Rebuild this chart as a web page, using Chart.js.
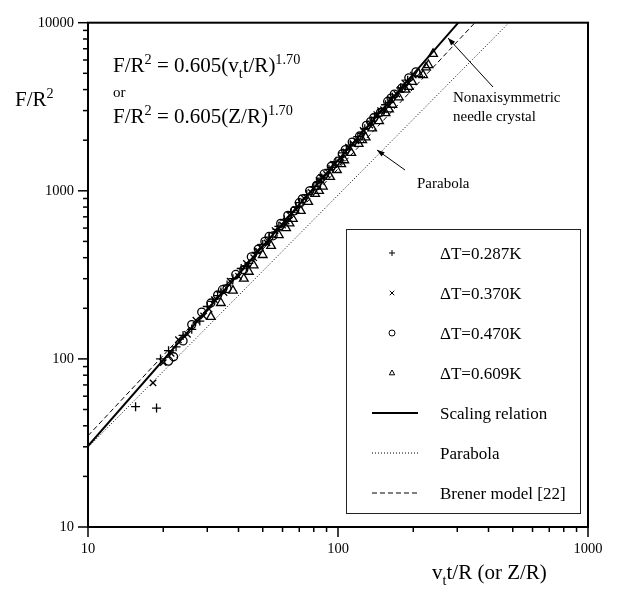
<!DOCTYPE html>
<html lang="en">
<head>
<meta charset="UTF-8">
<title>F/R2 scaling relation</title>
<script src="https://cdn.jsdelivr.net/npm/chart.js"></script>
<style>
  html, body { margin: 0; padding: 0; background: #fff; }
</style>
</head>
<body>
<canvas id="myChart" width="621" height="591"></canvas>
<script>
// tick labels (decades) on both log axes
const xTickLabels = [10, 100, 1000];
const yTickLabels = [10, 100, 1000, 10000];

// measured points, dT = 0.287K (+)
const plusX = [15.5, 18.8, 19.5, 21, 22.5, 24, 26, 28, 30, 31.5, 33, 34, 36, 38, 41, 43, 44, 47, 50, 53, 57, 58, 61, 65, 68, 70, 75, 80, 83, 86, 92, 95, 98, 105, 108, 112, 120, 125, 128, 136, 140, 145, 155, 160, 165, 178, 190];
const plusY = [52, 51, 100, 112, 118, 138, 150, 168, 205, 220, 238, 250, 275, 300, 345, 355, 370, 430, 480, 530, 590, 615, 670, 745, 800, 850, 950, 1060, 1120, 1190, 1340, 1380, 1490, 1680, 1750, 1870, 2100, 2200, 2340, 2600, 2730, 2900, 3250, 3350, 3600, 4100, 4550];

// dT = 0.370K (x)
const crossX = [18.2, 20, 21.5, 23, 25, 27, 29, 30.5, 32, 35, 37, 40, 43, 46, 47.5, 49, 52, 56, 60, 62, 64, 68, 73, 78, 84, 86, 90, 96, 103, 110, 115, 118, 126, 134, 143, 148, 152, 162, 172, 178, 185, 200];
const crossY = [72, 95, 108, 130, 140, 170, 180, 198, 225, 248, 290, 310, 370, 400, 440, 460, 490, 580, 625, 660, 720, 775, 905, 980, 1150, 1200, 1250, 1440, 1570, 1820, 1900, 1980, 2290, 2460, 2840, 3000, 3040, 3500, 3760, 4000, 4380, 4880];

// dT = 0.470K (o)
const circleX = [21, 22, 24, 26, 28.5, 31, 33, 34.5, 36, 39, 42, 45, 48, 51, 53, 55, 59, 63, 67, 70, 72, 77, 82, 85, 88, 94, 100, 104, 107, 114, 122, 130, 135, 139, 148, 158, 163, 168, 180, 192, 205];
const circleY = [97, 103, 128, 160, 190, 215, 240, 258, 262, 318, 340, 405, 450, 500, 535, 540, 640, 715, 760, 850, 895, 1000, 1075, 1180, 1260, 1400, 1500, 1660, 1760, 1950, 2120, 2450, 2580, 2720, 2930, 3400, 3560, 3760, 4080, 4700, 5100];

// dT = 0.609K (triangles)
const triX = [31, 34, 38, 42, 44, 46, 50, 54, 58, 62, 64, 66, 71, 76, 81, 84, 87, 93, 99, 103, 106, 113, 121, 125, 129, 137, 146, 155, 160, 165, 175, 186, 192, 198, 210, 219, 225, 230, 240];
const triY = [178, 215, 255, 300, 330, 360, 415, 470, 545, 600, 640, 680, 760, 860, 960, 1000, 1060, 1210, 1330, 1440, 1520, 1680, 1900, 2000, 2080, 2350, 2600, 2900, 3050, 3250, 3600, 4000, 4150, 4450, 4950, 4875, 5420, 5600, 6530];

// model curves (end points of straight lines in log-log)
const scalingX = [10, 303];
const scalingY = [30.3, 10000];
const parabolaX = [10, 483];
const parabolaY = [29.8, 10000];
const brenerX = [10, 353];
const brenerY = [34.9, 10000];

function pts(xs, ys) { return xs.map((x, i) => ({ x: x, y: ys[i] })); }

function allTicks(labels) {
  const out = [];
  for (let i = 0; i < labels.length - 1; i++) {
    for (let k = 1; k < 10; k++) out.push(k * labels[i]);
  }
  out.push(labels[labels.length - 1]);
  return out;
}

const SERIF = "'Liberation Serif', 'Times New Roman', serif";

// draw a text run made of normal / sup / sub pieces
function richText(ctx, parts, x, y, size) {
  let cx = x;
  parts.forEach(p => {
    const s = p[1] ? size * 0.68 : size;
    const dy = p[1] === 'sup' ? -size * 0.38 : (p[1] === 'sub' ? size * 0.28 : 0);
    ctx.font = s + 'px ' + SERIF;
    ctx.fillText(p[0], cx, y + dy);
    cx += ctx.measureText(p[0]).width;
  });
}

function arrow(ctx, x1, y1, x2, y2) {
  ctx.beginPath();
  ctx.moveTo(x1, y1);
  ctx.lineTo(x2, y2);
  ctx.stroke();
  const a = Math.atan2(y2 - y1, x2 - x1);
  const L = 8, W = 0.35;
  ctx.beginPath();
  ctx.moveTo(x2, y2);
  ctx.lineTo(x2 - L * Math.cos(a - W), y2 - L * Math.sin(a - W));
  ctx.lineTo(x2 - L * Math.cos(a + W), y2 - L * Math.sin(a + W));
  ctx.closePath();
  ctx.fill();
}

function marker(ctx, style, x, y, r) {
  ctx.beginPath();
  if (style === 'cross') {
    ctx.moveTo(x - r, y); ctx.lineTo(x + r, y);
    ctx.moveTo(x, y - r); ctx.lineTo(x, y + r);
  } else if (style === 'crossRot') {
    const d = r * 0.75;
    ctx.moveTo(x - d, y - d); ctx.lineTo(x + d, y + d);
    ctx.moveTo(x + d, y - d); ctx.lineTo(x - d, y + d);
  } else if (style === 'circle') {
    ctx.arc(x, y, r, 0, Math.PI * 2);
  } else if (style === 'triangle') {
    ctx.moveTo(x, y - r);
    ctx.lineTo(x + r * 0.9, y + r * 0.6);
    ctx.lineTo(x - r * 0.9, y + r * 0.6);
    ctx.closePath();
  }
  ctx.stroke();
}

const decorations = {
  id: 'decorations',
  afterDraw(chart) {
    const ctx = chart.ctx;
    const a = chart.chartArea;
    ctx.save();
    ctx.strokeStyle = '#000';
    ctx.fillStyle = '#000';

    // frame
    ctx.lineWidth = 2;
    ctx.strokeRect(a.left, a.top, a.right - a.left, a.bottom - a.top);

    // tick marks, pointing outwards
    ctx.lineWidth = 1.5;
    const xs = chart.scales.x, ys = chart.scales.y;
    allTicks(xTickLabels).forEach(v => {
      const p = xs.getPixelForValue(v);
      const len = xTickLabels.includes(v) ? 10 : 5;
      ctx.beginPath(); ctx.moveTo(p, a.bottom); ctx.lineTo(p, a.bottom + len); ctx.stroke();
    });
    allTicks(yTickLabels).forEach(v => {
      const p = ys.getPixelForValue(v);
      const len = yTickLabels.includes(v) ? 10 : 5;
      ctx.beginPath(); ctx.moveTo(a.left, p); ctx.lineTo(a.left - len, p); ctx.stroke();
    });

    // axis titles
    ctx.textAlign = 'left';
    ctx.textBaseline = 'alphabetic';
    richText(ctx, [['F/R'], ['2', 'sup']], 15, 106, 21);
    richText(ctx, [['v'], ['t', 'sub'], ['t/R (or Z/R)']], 432, 579, 21);

    // formula
    richText(ctx, [['F/R'], ['2', 'sup'], [' = 0.605(v'], ['t', 'sub'], ['t/R)'], ['1.70', 'sup']], 113, 72, 21);
    ctx.font = '15px ' + SERIF;
    ctx.fillText('or', 113, 97);
    richText(ctx, [['F/R'], ['2', 'sup'], [' = 0.605(Z/R)'], ['1.70', 'sup']], 113, 123, 21);

    // labels with arrows
    ctx.font = '15px ' + SERIF;
    ctx.fillText('Nonaxisymmetric', 453, 102);
    ctx.fillText('needle crystal', 453, 121);
    ctx.fillText('Parabola', 417, 188);
    ctx.lineWidth = 1;
    arrow(ctx, 493, 87, 448, 38);
    arrow(ctx, 405, 170, 377, 150);

    // legend box
    const L = { left: 346, top: 229, right: 580, bottom: 513 };
    ctx.lineWidth = 1;
    ctx.strokeStyle = '#222';
    ctx.strokeRect(L.left + 0.5, L.top + 0.5, L.right - L.left, L.bottom - L.top);
    ctx.strokeStyle = '#000';
    const rows = [253, 293, 333, 373, 413, 453, 493];
    const ds = chart.data.datasets;
    ctx.font = '17px ' + SERIF;
    ds.forEach((d, i) => {
      const y = rows[i];
      if (d.showLine) {
        ctx.lineWidth = d.borderWidth;
        ctx.setLineDash(d.borderDash || []);
        ctx.beginPath(); ctx.moveTo(372, y); ctx.lineTo(418, y); ctx.stroke();
        ctx.setLineDash([]);
      } else {
        ctx.lineWidth = 1;
        marker(ctx, d.pointStyle, 392, y, 3);
      }
      ctx.fillText(d.label, 440, y + 6);
    });
    ctx.restore();
  }
};

const pointDs = (label, xs, ys, style, r) => ({
  label: label,
  data: pts(xs, ys),
  pointStyle: style,
  pointRadius: r,
  pointBorderWidth: 1.3,
  borderColor: '#000',
  backgroundColor: 'rgba(0,0,0,0)',
  showLine: false
});

const lineDs = (label, xs, ys, width, dash) => ({
  label: label,
  data: pts(xs, ys),
  showLine: true,
  borderColor: '#000',
  borderWidth: width,
  borderDash: dash,
  pointRadius: 0,
  fill: false
});

const config = {
  type: 'scatter',
  data: {
    datasets: [
      pointDs('\u0394T=0.287K', plusX, plusY, 'cross', 4.5),
      pointDs('\u0394T=0.370K', crossX, crossY, 'crossRot', 4.5),
      pointDs('\u0394T=0.470K', circleX, circleY, 'circle', 4),
      pointDs('\u0394T=0.609K', triX, triY, 'triangle', 5),
      lineDs('Scaling relation', scalingX, scalingY, 2, []),
      lineDs('Parabola', parabolaX, parabolaY, 1, [1, 2]),
      lineDs('Brener model [22]', brenerX, brenerY, 1, [5, 3])
    ]
  },
  options: {
    responsive: false,
    animation: false,
    devicePixelRatio: 1,
    layout: { padding: { top: 8, right: 33, left: 0, bottom: 0 } },
    plugins: { legend: { display: false }, tooltip: { enabled: false } },
    scales: {
      x: {
        type: 'logarithmic',
        min: 10,
        max: 1000,
        afterBuildTicks: s => { s.ticks = allTicks(xTickLabels).map(v => ({ value: v })); },
        afterFit: s => { s.height = 64; },
        grid: { display: false, drawTicks: false },
        border: { display: false },
        ticks: {
          autoSkip: false,
          maxRotation: 0,
          padding: 13,
          color: '#000',
          font: { family: SERIF, size: 14.5 },
          callback: v => xTickLabels.includes(v) ? String(v) : ''
        }
      },
      y: {
        type: 'logarithmic',
        min: 10,
        max: 10000,
        afterBuildTicks: s => { s.ticks = allTicks(yTickLabels).map(v => ({ value: v })); },
        afterFit: s => { s.width = 88; },
        grid: { display: false, drawTicks: false },
        border: { display: false },
        ticks: {
          autoSkip: false,
          padding: 14,
          color: '#000',
          font: { family: SERIF, size: 14.5 },
          callback: v => yTickLabels.includes(v) ? String(v) : ''
        }
      }
    }
  },
  plugins: [decorations]
};

const ctx = document.getElementById('myChart').getContext('2d');
const myChart = new Chart(ctx, config);
</script>
</body>
</html>
